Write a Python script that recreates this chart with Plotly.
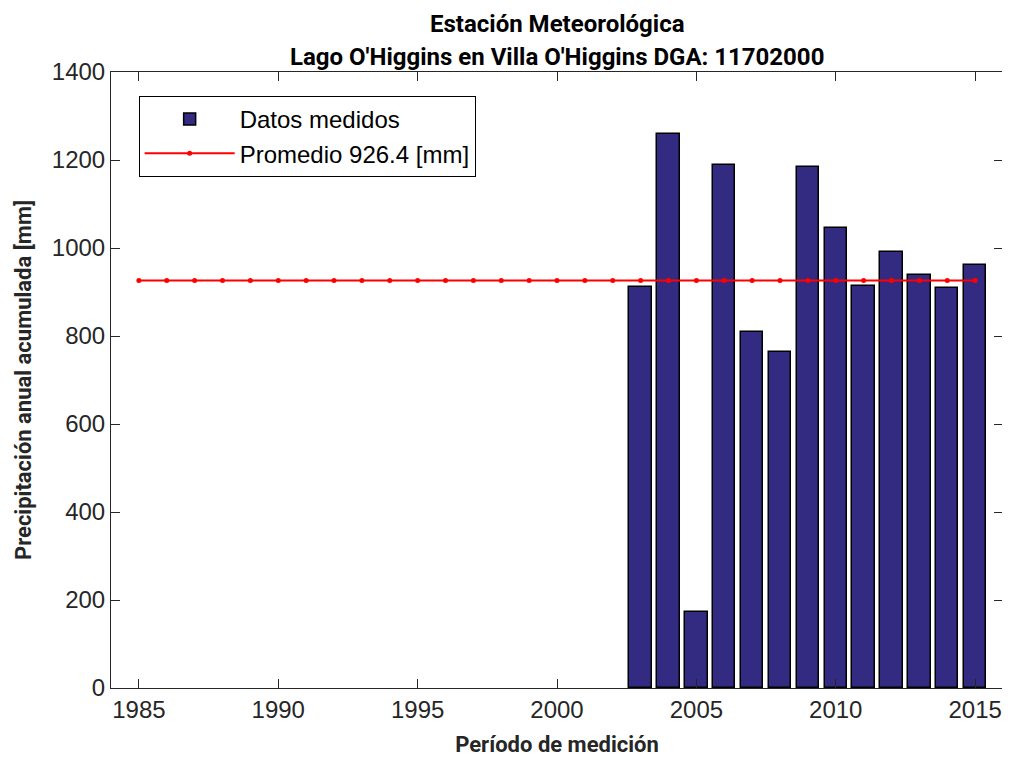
import plotly.graph_objects as go

# annual accumulated precipitation [mm]
years = [2003, 2004, 2005, 2006, 2007, 2008, 2009, 2010, 2011, 2012, 2013, 2014, 2015]
precip = [911, 1258, 172, 1189, 809, 764, 1183, 1046, 914, 990, 939, 908, 961]

mean_years = list(range(1985, 2016))
mean_value = 926.4
mean_line = [mean_value] * len(mean_years)

xticks = [1985, 1990, 1995, 2000, 2005, 2010, 2015]
yticks = [0, 200, 400, 600, 800, 1000, 1200, 1400]

title_lines = ["Estación Meteorológica",
               "Lago O'Higgins en Villa O'Higgins DGA: 11702000"]

title_font = "Roboto"
tick_font = "Liberation Sans, Arial"
axis_col = "#262626"

fig = go.Figure()

fig.add_trace(go.Bar(
    x=years, y=precip, width=0.8,
    name="Datos medidos",
    marker=dict(color="#332a82", line=dict(color="black", width=1.5)),
))

fig.add_trace(go.Scatter(
    x=mean_years, y=mean_line,
    mode="lines+markers",
    name="Promedio %.1f [mm]" % mean_value,
    line=dict(color="red", width=2),
    marker=dict(color="red", size=5),
))

# two title lines as annotations, placed above the plot area
for txt, ypos in zip(title_lines, [1.0779, 1.0244]):
    fig.add_annotation(
        text="<b>%s</b>" % txt, xref="paper", yref="paper",
        x=0.5, y=ypos, xanchor="center", yanchor="middle",
        showarrow=False,
        font=dict(family=title_font, size=24, color="black"),
    )

# page body has an 8px margin, so the figure is sized to fit inside it
fig.update_layout(
    width=1002, height=752,
    plot_bgcolor="white", paper_bgcolor="white",
    margin=dict(l=103, r=7, t=64, b=72),
    legend=dict(
        x=0.031, y=0.961, xanchor="left", yanchor="top",
        bgcolor="white", bordercolor="black", borderwidth=1,
        font=dict(family=tick_font, size=24, color="black"),
        itemwidth=90,
    ),
    bargap=0,
)

fig.update_xaxes(
    range=[1984, 2016],
    tickvals=xticks,
    ticks="inside", ticklen=9, tickcolor=axis_col,
    showline=True, linecolor=axis_col, linewidth=1, mirror="allticks",
    showgrid=False, zeroline=False,
    tickfont=dict(family=tick_font, size=24, color=axis_col),
    title=dict(text="<b>Período de medición</b>",
               font=dict(family=title_font, size=22, color=axis_col), standoff=14),
)

fig.update_yaxes(
    range=[0, 1400],
    tickvals=yticks,
    ticks="inside", ticklen=9, tickcolor=axis_col,
    showline=True, linecolor=axis_col, linewidth=1, mirror="allticks",
    showgrid=False, zeroline=False,
    tickfont=dict(family=tick_font, size=24, color=axis_col),
    title=dict(text="<b>Precipitación anual acumulada [mm]</b>",
               font=dict(family=title_font, size=22, color=axis_col), standoff=14),
)

fig.write_html("out.html")
